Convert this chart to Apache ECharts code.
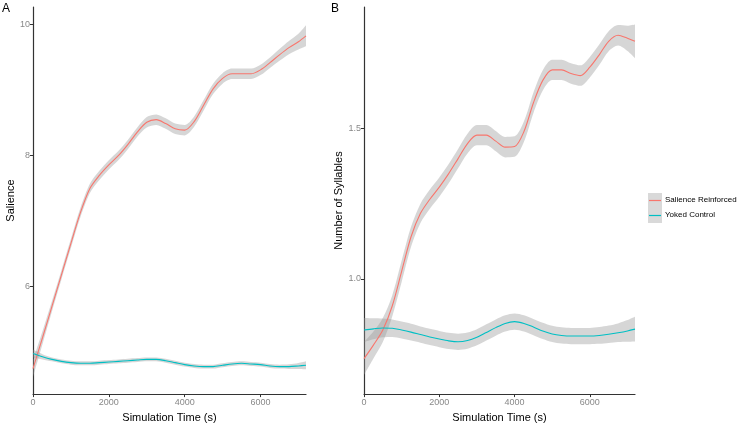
<!DOCTYPE html>
<html>
<head>
<meta charset="utf-8">
<script src="https://cdn.jsdelivr.net/npm/echarts@6/dist/echarts.min.js"></script>
<style>
  html, body { margin: 0; padding: 0; background: #fff; }
  #chart { width: 741px; height: 428px; }
</style>
</head>
<body>
<div id="chart"></div>
<script>
// time points (s)
const times = [0, 250, 500, 750, 1000, 1250, 1500, 1750, 2000, 2250, 2500, 2750, 3000, 3250, 3500,
  3750, 4000, 4250, 4500, 4750, 5000, 5250, 5500, 5750, 6000, 6250, 6500, 6750, 7000, 7200];
const xTicks = [0, 2000, 4000, 6000];

// panel A - salience
const salReinforced = [4.75, 5.22, 5.70, 6.18, 6.66, 7.13, 7.50, 7.70, 7.86, 8.00, 8.17, 8.36, 8.51, 8.55, 8.49,
  8.41, 8.39, 8.52, 8.77, 9.02, 9.18, 9.25, 9.25, 9.25, 9.31, 9.42, 9.54, 9.65, 9.74, 9.83];
const salReinforcedSe = [0.13, 0.10, 0.08, 0.07, 0.07, 0.07, 0.07, 0.07, 0.07, 0.07, 0.07, 0.07, 0.08, 0.08, 0.08,
  0.08, 0.08, 0.08, 0.08, 0.08, 0.08, 0.08, 0.08, 0.08, 0.08, 0.08, 0.09, 0.10, 0.12, 0.16];
const salYoked = [4.98, 4.93, 4.89, 4.86, 4.84, 4.83, 4.83, 4.84, 4.85, 4.86, 4.87, 4.88, 4.89, 4.89, 4.87,
  4.84, 4.81, 4.79, 4.78, 4.78, 4.80, 4.82, 4.83, 4.82, 4.81, 4.79, 4.78, 4.78, 4.79, 4.80];
const salYokedSe = [0.06, 0.04, 0.03, 0.03, 0.03, 0.03, 0.03, 0.03, 0.03, 0.03, 0.03, 0.03, 0.03, 0.03, 0.03,
  0.03, 0.03, 0.03, 0.03, 0.03, 0.03, 0.03, 0.03, 0.03, 0.03, 0.03, 0.03, 0.035, 0.045, 0.06];
const salTicks = [6, 8, 10];

// panel B - number of syllables
const sylReinforced = [0.735, 0.78, 0.83, 0.91, 1.025, 1.14, 1.218, 1.265, 1.305, 1.35, 1.40, 1.45, 1.478, 1.478, 1.458,
  1.438, 1.44, 1.49, 1.585, 1.66, 1.695, 1.695, 1.683, 1.676, 1.704, 1.745, 1.79, 1.81, 1.80, 1.79];
const sylReinforcedSe = [0.055, 0.045, 0.04, 0.035, 0.035, 0.033, 0.032, 0.032, 0.032, 0.032, 0.032, 0.033, 0.034, 0.034, 0.034,
  0.034, 0.034, 0.034, 0.034, 0.034, 0.034, 0.034, 0.034, 0.034, 0.034, 0.034, 0.033, 0.034, 0.042, 0.056];
const sylYoked = [0.830, 0.834, 0.837, 0.836, 0.830, 0.823, 0.815, 0.807, 0.800, 0.794, 0.791, 0.795, 0.806, 0.822, 0.838,
  0.852, 0.858, 0.852, 0.840, 0.827, 0.817, 0.812, 0.810, 0.810, 0.810, 0.812, 0.816, 0.821, 0.827, 0.833];
const sylYokedSe = [0.04, 0.035, 0.031, 0.029, 0.028, 0.028, 0.027, 0.027, 0.027, 0.027, 0.027, 0.027, 0.027, 0.027, 0.027,
  0.027, 0.027, 0.027, 0.027, 0.027, 0.027, 0.027, 0.027, 0.027, 0.027, 0.028, 0.029, 0.031, 0.036, 0.041];
const sylTicks = [1.0, 1.5];

const RED = "#F8766D";
const TEAL = "#00BFC4";
const BAND = "rgba(153,153,153,0.4)";
const FONT = "Liberation Sans, Arial";

// value first, time second -> the stack runs on the value (y) dimension
function rows(vals) {
  return times.map((t, i) => [vals[i], t]);
}

// confidence band as a stacked area (lower edge + width)
function band(name, axis, vals, se) {
  const lower = times.map((t, i) => [vals[i] - se[i], t]);
  const width = times.map((t, i) => [2 * se[i], t]);
  const common = {
    type: "line", stack: name, xAxisIndex: axis, yAxisIndex: axis,
    encode: { x: 1, y: 0 }, smooth: 0.3, symbol: "none", silent: true,
    lineStyle: { opacity: 0 }, z: 1,
  };
  return [
    Object.assign({ data: lower }, common),
    Object.assign({ data: width, areaStyle: { color: BAND, opacity: 1 } }, common),
  ];
}

function line(name, axis, vals, color) {
  return {
    name: name, type: "line", xAxisIndex: axis, yAxisIndex: axis,
    data: rows(vals), encode: { x: 1, y: 0 }, smooth: 0.3, symbol: "none",
    lineStyle: { color: color, width: 1.1 }, z: 3,
  };
}

const axisLineStyle = { show: true, lineStyle: { color: "#333", width: 1.2 } };
const tickLabel = { color: "#888", fontSize: 9, fontFamily: FONT };

function xAxis(idx) {
  return {
    type: "value", gridIndex: idx, min: 0, max: 7200,
    name: "Simulation Time (s)", nameLocation: "middle", nameGap: 12,
    nameTextStyle: { color: "#000", fontSize: 11, fontFamily: FONT },
    axisLine: axisLineStyle,
    axisTick: { show: true, length: 3, customValues: xTicks, lineStyle: { color: "#333" } },
    axisLabel: Object.assign({ margin: 4, customValues: xTicks, formatter: (v) => String(v) }, tickLabel),
    splitLine: { show: false },
  };
}

function yAxis(idx, name, min, max, ticks, digits, gap) {
  return {
    type: "value", gridIndex: idx, min: min, max: max,
    name: name, nameLocation: "middle", nameGap: gap, nameRotate: 90,
    nameTextStyle: { color: "#000", fontSize: 11, fontFamily: FONT },
    axisLine: axisLineStyle,
    axisTick: { show: true, length: 3, customValues: ticks, lineStyle: { color: "#333" } },
    axisLabel: Object.assign({
      margin: 3, customValues: ticks,
      formatter: (v) => v.toFixed(digits),
    }, tickLabel),
    splitLine: { show: false },
  };
}

const myChart = echarts.init(document.getElementById("chart"));

const option = {
  animation: false,
  backgroundColor: "#fff",
  grid: [
    { left: 33, top: 7, width: 273, height: 393 },
    { left: 364, top: 7, width: 271, height: 393 },
  ],
  xAxis: [xAxis(0), xAxis(1)],
  yAxis: [
    yAxis(0, "Salience", 4.36, 10.27, salTicks, 0, 16),
    yAxis(1, "Number of Syllables", 0.617, 1.904, sylTicks, 1, 17),
  ],
  series: [
    ...band("bA1", 0, salReinforced, salReinforcedSe),
    ...band("bA2", 0, salYoked, salYokedSe),
    ...band("bB1", 1, sylReinforced, sylReinforcedSe),
    ...band("bB2", 1, sylYoked, sylYokedSe),
    line("Salience Reinforced", 0, salReinforced, RED),
    line("Yoked Control", 0, salYoked, TEAL),
    line("Salience Reinforced", 1, sylReinforced, RED),
    line("Yoked Control", 1, sylYoked, TEAL),
  ],
  graphic: [
    { type: "text", left: 2, top: 3, style: { text: "A", fontSize: 12, fill: "#000", fontFamily: FONT } },
    { type: "text", left: 331, top: 3, style: { text: "B", fontSize: 12, fill: "#000", fontFamily: FONT } },
    // legend keys
    { type: "rect", shape: { x: 648, y: 193, width: 14, height: 15 }, style: { fill: "#d9d9d9" } },
    { type: "rect", shape: { x: 648, y: 208, width: 14, height: 15 }, style: { fill: "#d9d9d9" } },
    { type: "line", shape: { x1: 649, y1: 200.5, x2: 661, y2: 200.5 }, style: { stroke: RED, lineWidth: 1.2 } },
    { type: "line", shape: { x1: 649, y1: 215.5, x2: 661, y2: 215.5 }, style: { stroke: TEAL, lineWidth: 1.2 } },
    { type: "text", left: 665, top: 196, style: { text: "Salience Reinforced", fontSize: 8, fill: "#000", fontFamily: FONT } },
    { type: "text", left: 665, top: 211, style: { text: "Yoked Control", fontSize: 8, fill: "#000", fontFamily: FONT } },
  ],
};

myChart.setOption(option);
window.addEventListener("resize", () => myChart.resize());
</script>
</body>
</html>
